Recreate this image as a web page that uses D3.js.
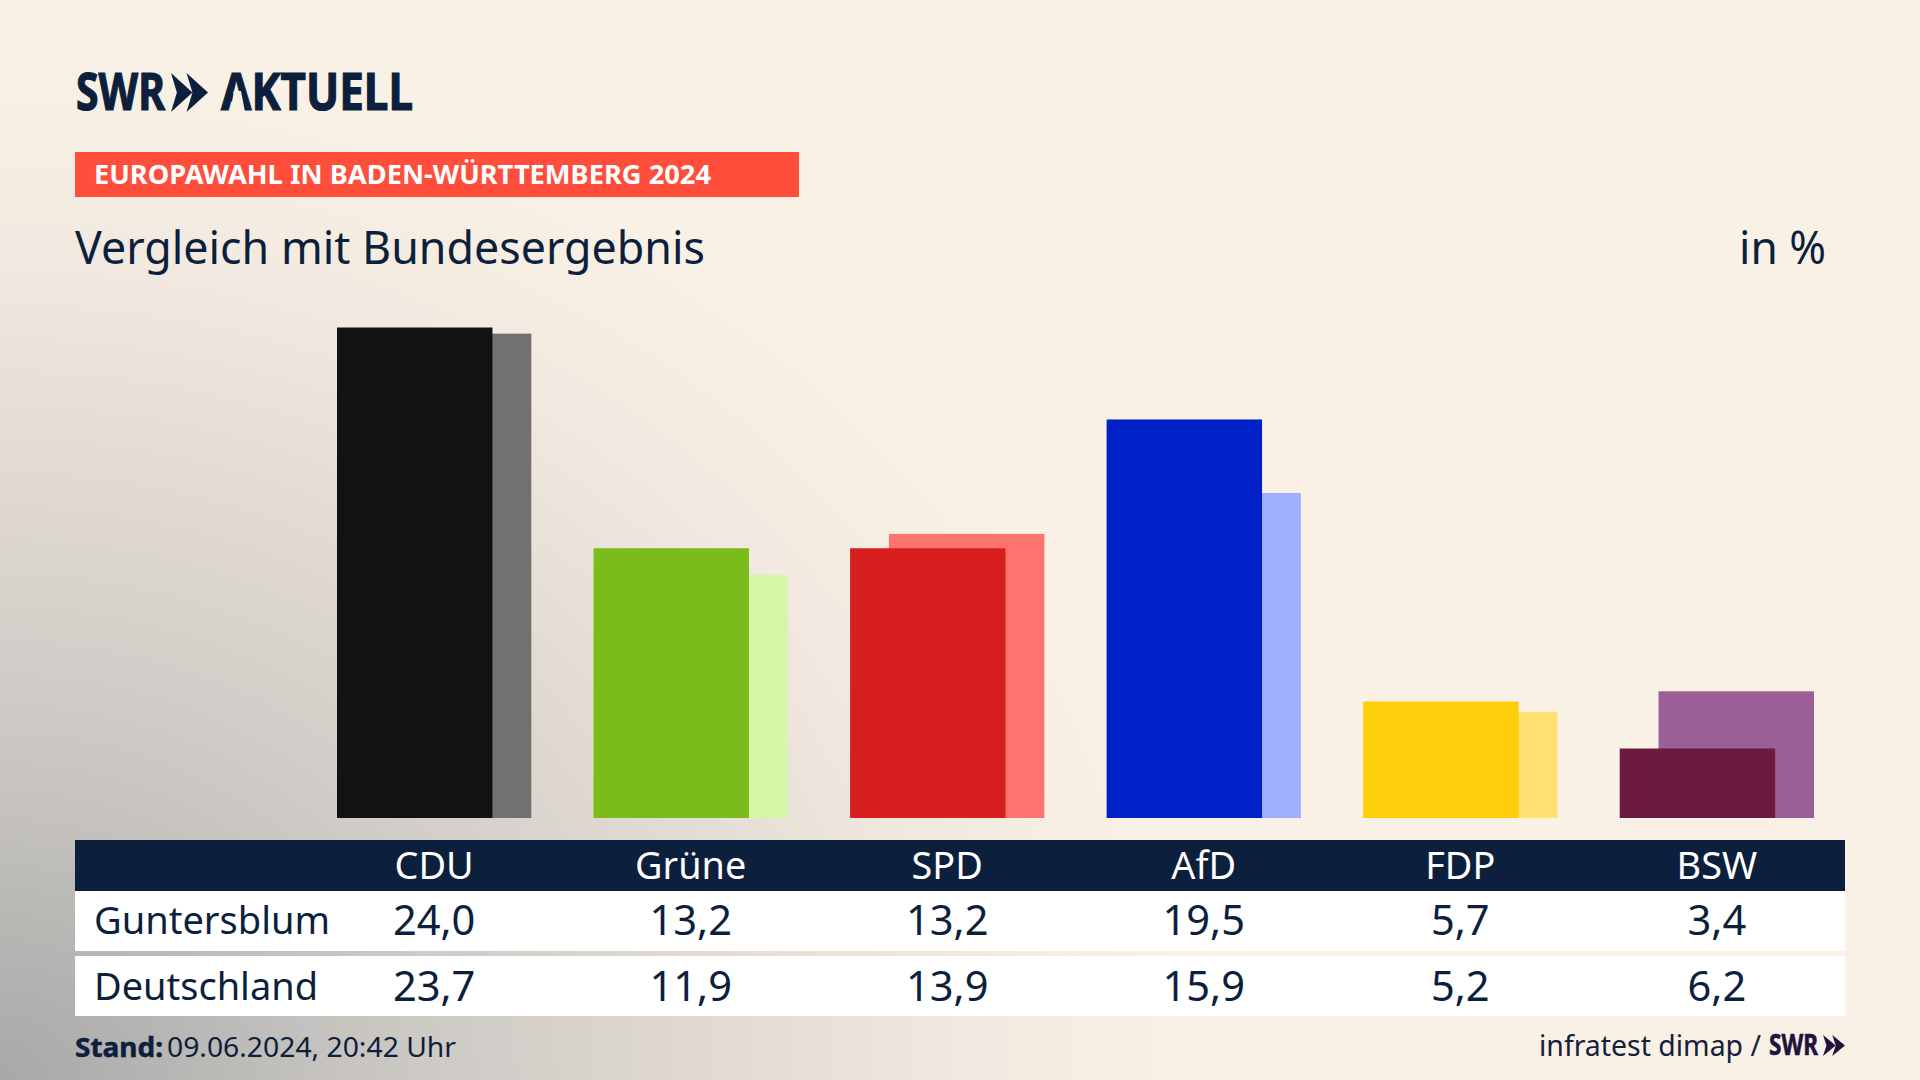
<!DOCTYPE html>
<html>
<head>
<meta charset="utf-8">
<script src="https://cdn.jsdelivr.net/npm/d3@7"></script>
<style>
  html, body { margin: 0; padding: 0; background: #faf1e6; }
  svg { display: block; }
  text { font-family: "Noto Sans", sans-serif; }
</style>
</head>
<body>
<svg id="chart" width="1920" height="1080"></svg>
<script>
// values
const parties = ["CDU", "Grüne", "SPD", "AfD", "FDP", "BSW"];
const rowNames = ["Guntersblum", "Deutschland"];
const guntersblum = [24.0, 13.2, 13.2, 19.5, 5.7, 3.4];
const deutschland = [23.7, 11.9, 13.9, 15.9, 5.2, 6.2];
const frontColors = ["#121212", "#7abc1a", "#d81f1f", "#0020c8", "#ffce0a", "#6b1a40"];
const backColors = ["#72716f", "#d7f6a8", "#ff736e", "#9faeff", "#ffe070", "#9b5e96"];

const navy = "#0c1f3c";
const svg = d3.select("#chart");

// background, cream with the grey coming in from the bottom left corner
const defs = svg.append("defs");
const bg = defs.append("radialGradient").attr("id", "bg")
  .attr("gradientUnits", "userSpaceOnUse")
  .attr("cx", 0).attr("cy", 1080).attr("r", 1000)
  .attr("gradientTransform", "translate(0 1080) scale(1.2 1.02) translate(0 -1080)");
bg.append("stop").attr("offset", 0).attr("stop-color", "#a8a8a7");
bg.append("stop").attr("offset", 0.3).attr("stop-color", "#c8c5c1");
bg.append("stop").attr("offset", 0.55).attr("stop-color", "#ddd7d0");
bg.append("stop").attr("offset", 0.8).attr("stop-color", "#f1e9df");
bg.append("stop").attr("offset", 1).attr("stop-color", "#faf1e6");
svg.append("rect").attr("width", 1920).attr("height", 1080).attr("fill", "url(#bg)");

// puts a text down and squeezes it to the width it has in the picture
function label(str, x, y, size, opts) {
  opts = opts || {};
  const t = svg.append("text")
    .attr("x", x).attr("y", y)
    .attr("font-size", size)
    .attr("fill", opts.fill || navy)
    .attr("font-weight", opts.weight || 400)
    .attr("text-anchor", opts.anchor || "start")
    .text(str);
  const w = opts.width || t.node().getComputedTextLength() * (opts.factor || 1);
  t.attr("textLength", w).attr("lengthAdjust", "spacingAndGlyphs");
  if (opts.heavy) t.attr("stroke", opts.fill || navy).attr("stroke-width", opts.heavy);
  return t;
}

// the two chevrons of the SWR logo
function chevrons(x, y, w, h, fill) {
  const one = w * 0.58, d = w - one, s = h / 2, b = one * 0.5;
  [0, d].forEach(off => {
    svg.append("path")
      .attr("d", `M${x + off},${y} L${x + off + one},${y + s} L${x + off},${y + h} L${x + off + b * 0.55},${y + s} Z`)
      .attr("fill", fill);
  });
}

// header
label("SWR", 76, 110, 52, {weight: 700, width: 89, heavy: 1.2});
chevrons(171, 73, 37, 39, navy);
label("AKTUELL", 221, 110, 52, {weight: 700, width: 192, heavy: 1.2});
// the logo's A has no crossbar, cut it out with the background
svg.append("path").attr("d", "M234,91 L241,91 L245,112 L230,112 Z").attr("fill", "url(#bg)");

svg.append("rect").attr("x", 75).attr("y", 152).attr("width", 724).attr("height", 45).attr("fill", "#ff4f3c");
label("EUROPAWAHL IN BADEN-WÜRTTEMBERG 2024", 94, 184, 27, {weight: 700, fill: "#fff", width: 617});

label("Vergleich mit Bundesergebnis", 75, 264, 46, {width: 630});
label("in %", 1826, 264, 46, {anchor: "end", width: 87});

// bars
const x = d3.scaleBand().domain(parties).range([337, 1814]).paddingInner(0.2426).paddingOuter(0);
const y = d3.scaleLinear().domain([0, 24]).range([818, 327.5]);
const frontW = x.bandwidth() * 0.8;
const backOff = x.bandwidth() * 0.2;

svg.append("g").selectAll("rect").data(parties).join("rect")
  .attr("x", d => x(d) + backOff)
  .attr("y", (d, i) => y(deutschland[i]))
  .attr("width", frontW)
  .attr("height", (d, i) => y(0) - y(deutschland[i]))
  .attr("fill", (d, i) => backColors[i]);

svg.append("g").selectAll("rect").data(parties).join("rect")
  .attr("x", d => x(d))
  .attr("y", (d, i) => y(guntersblum[i]))
  .attr("width", frontW)
  .attr("height", (d, i) => y(0) - y(guntersblum[i]))
  .attr("fill", (d, i) => frontColors[i]);

// table
const tableX = 75, tableW = 1770;
svg.append("rect").attr("x", tableX).attr("y", 840).attr("width", tableW).attr("height", 51).attr("fill", navy);
svg.append("rect").attr("x", tableX).attr("y", 891).attr("width", tableW).attr("height", 60).attr("fill", "#fff");
svg.append("rect").attr("x", tableX).attr("y", 956).attr("width", tableW).attr("height", 60).attr("fill", "#fff");

const center = d => x(d) + x.bandwidth() / 2;
const fmt = v => v.toFixed(1).replace(".", ",");

parties.forEach((p, i) => {
  label(p, center(p), 879, 39, {fill: "#fff", anchor: "middle", factor: 0.97});
  label(fmt(guntersblum[i]), center(p), 935, 42, {anchor: "middle", factor: 0.99});
  label(fmt(deutschland[i]), center(p), 1001, 42, {anchor: "middle", factor: 0.99});
});
label(rowNames[0], 94, 934, 38, {width: 236});
label(rowNames[1], 94, 1000, 38, {width: 224});

// footer
label("Stand:", 75, 1057, 27, {weight: 700, width: 88, heavy: 0.5});
label("09.06.2024, 20:42 Uhr", 167, 1057, 27, {width: 289});
label("infratest dimap /", 1539, 1056, 29, {fill: "#16203a", width: 222});
label("SWR", 1769, 1055, 28, {weight: 700, fill: "#22123e", width: 49, heavy: 0.6});
chevrons(1823, 1035, 22, 21, "#22123e");
</script>
</body>
</html>
